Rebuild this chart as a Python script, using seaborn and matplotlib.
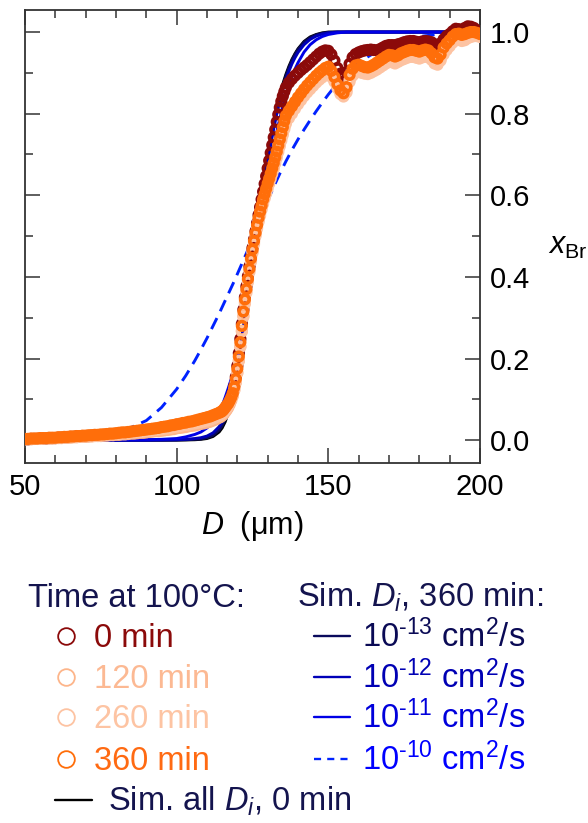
import matplotlib
matplotlib.use("Agg")
import matplotlib.pyplot as plt
import seaborn as sns
from matplotlib.ticker import MultipleLocator, FixedLocator, FormatStrFormatter
from matplotlib.lines import Line2D

# ---------------- data ----------------
D_um = [50, 51, 52, 53, 54, 55, 56, 57, 58, 59, 60, 61, 62, 63, 64, 65, 66, 67, 68, 69,
        70, 71, 72, 73, 74, 75, 76, 77, 78, 79, 80, 81, 82, 83, 84, 85, 86, 87, 88, 89,
        90, 91, 92, 93, 94, 95, 96, 97, 98, 99, 100, 101, 102, 103, 104, 105, 106, 107, 108, 109,
        110, 111, 112, 113, 114,
        114.5, 115, 115.5, 116, 116.5, 117, 117.5, 118, 118.5, 119, 119.5, 120, 120.5, 121, 121.5,
        122, 122.5, 123, 123.5, 124, 124.5, 125, 125.5, 126, 126.5, 127, 127.5, 128, 128.5, 129,
        129.5, 130, 130.5, 131, 131.5, 132, 132.5, 133, 133.5, 134, 134.5, 135, 135.5, 136,
        137, 138, 139, 140, 141, 142, 143, 144, 145, 146, 147, 148, 149, 150, 151, 152, 153, 154,
        155, 156, 157, 158, 159, 160, 161, 162, 163, 164, 165, 166, 167, 168, 169, 170, 171, 172,
        173, 174, 175, 176, 177, 178, 179, 180, 181, 182, 183, 184, 185, 186, 187, 188, 189, 190,
        191, 192, 193, 194, 195, 196, 197, 198, 199, 200]

xbr_0min = [0.002, 0.002, 0.003, 0.003, 0.003, 0.004, 0.004, 0.004, 0.005, 0.005,
            0.005, 0.006, 0.006, 0.007, 0.007, 0.008, 0.008, 0.009, 0.009, 0.010,
            0.010, 0.010, 0.011, 0.011, 0.012, 0.012, 0.013, 0.013, 0.014, 0.015,
            0.015, 0.016, 0.017, 0.017, 0.018, 0.019, 0.020, 0.021, 0.021, 0.022,
            0.023, 0.024, 0.025, 0.026, 0.027, 0.028, 0.029, 0.031, 0.032, 0.033,
            0.035, 0.036, 0.037, 0.039, 0.040, 0.042, 0.044, 0.045, 0.047, 0.049,
            0.051, 0.053, 0.056, 0.059, 0.062,
            0.064, 0.066, 0.070, 0.074, 0.079, 0.085, 0.093, 0.103, 0.116, 0.133, 0.155, 0.182,
            0.213, 0.248, 0.285, 0.320, 0.350, 0.377, 0.402, 0.426, 0.449, 0.471, 0.492, 0.512,
            0.532, 0.552, 0.571, 0.590, 0.609, 0.628, 0.647, 0.666, 0.685, 0.704, 0.723, 0.742,
            0.761, 0.780, 0.798, 0.815, 0.830, 0.843, 0.854, 0.864,
            0.876, 0.885, 0.893, 0.900, 0.907, 0.913, 0.919, 0.926, 0.933, 0.940, 0.947, 0.952,
            0.955, 0.954, 0.945, 0.930, 0.912, 0.898, 0.892, 0.902, 0.922, 0.938, 0.946, 0.950,
            0.953, 0.955, 0.956, 0.957, 0.956, 0.955, 0.958, 0.962, 0.966, 0.968, 0.968, 0.968,
            0.970, 0.972, 0.975, 0.977, 0.978, 0.978, 0.976, 0.975, 0.977, 0.978, 0.977, 0.975,
            0.970, 0.968, 0.972, 0.982, 0.990, 0.995, 1.002, 1.008, 1.007, 1.005, 1.010, 1.014,
            1.013, 1.010, 1.004, 1.000]

xbr_120min = [0.002, 0.002, 0.002, 0.003, 0.003, 0.003, 0.004, 0.004, 0.004, 0.004,
              0.005, 0.005, 0.005, 0.006, 0.006, 0.006, 0.007, 0.007, 0.008, 0.008,
              0.008, 0.009, 0.009, 0.010, 0.010, 0.010, 0.011, 0.011, 0.012, 0.012,
              0.013, 0.013, 0.014, 0.014, 0.015, 0.016, 0.016, 0.017, 0.018, 0.018,
              0.019, 0.020, 0.021, 0.022, 0.022, 0.023, 0.024, 0.025, 0.026, 0.027,
              0.029, 0.030, 0.031, 0.032, 0.034, 0.035, 0.036, 0.038, 0.040, 0.041,
              0.043, 0.045, 0.048, 0.051, 0.055,
              0.057, 0.060, 0.064, 0.069, 0.074, 0.080, 0.088, 0.097, 0.108, 0.122, 0.141, 0.165,
              0.195, 0.230, 0.268, 0.305, 0.338, 0.366, 0.392, 0.417, 0.441, 0.463, 0.484, 0.504,
              0.522, 0.539, 0.555, 0.570, 0.584, 0.597, 0.610, 0.622, 0.634, 0.646, 0.658, 0.671,
              0.684, 0.698, 0.712, 0.726, 0.740, 0.754, 0.767, 0.779,
              0.793, 0.805, 0.817, 0.828, 0.838, 0.848, 0.857, 0.865, 0.873, 0.880, 0.887, 0.893,
              0.899, 0.902, 0.895, 0.882, 0.866, 0.852, 0.846, 0.857, 0.883, 0.898, 0.905, 0.908,
              0.905, 0.902, 0.902, 0.905, 0.908, 0.912, 0.917, 0.922, 0.927, 0.931, 0.930, 0.927,
              0.931, 0.935, 0.938, 0.941, 0.943, 0.943, 0.941, 0.940, 0.942, 0.944, 0.942, 0.936,
              0.926, 0.924, 0.934, 0.950, 0.960, 0.968, 0.977, 0.984, 0.985, 0.982, 0.984, 0.988,
              0.990, 0.992, 0.991, 0.990]

xbr_260min = [0.002, 0.003, 0.003, 0.003, 0.004, 0.004, 0.004, 0.005, 0.005, 0.005,
              0.005, 0.006, 0.006, 0.007, 0.007, 0.008, 0.008, 0.008, 0.009, 0.009,
              0.010, 0.010, 0.011, 0.011, 0.011, 0.012, 0.012, 0.013, 0.014, 0.014,
              0.015, 0.015, 0.016, 0.017, 0.017, 0.018, 0.019, 0.020, 0.020, 0.021,
              0.022, 0.023, 0.024, 0.025, 0.026, 0.027, 0.028, 0.029, 0.030, 0.032,
              0.033, 0.034, 0.036, 0.037, 0.038, 0.040, 0.041, 0.043, 0.044, 0.046,
              0.048, 0.050, 0.053, 0.056, 0.059,
              0.061, 0.064, 0.068, 0.073, 0.078, 0.084, 0.091, 0.100, 0.110, 0.124, 0.142, 0.165,
              0.194, 0.228, 0.266, 0.302, 0.334, 0.361, 0.387, 0.412, 0.437, 0.459, 0.480, 0.500,
              0.518, 0.535, 0.550, 0.565, 0.579, 0.592, 0.604, 0.616, 0.628, 0.640, 0.652, 0.665,
              0.678, 0.692, 0.706, 0.720, 0.734, 0.748, 0.762, 0.775,
              0.789, 0.800, 0.812, 0.823, 0.833, 0.843, 0.852, 0.860, 0.868, 0.876, 0.883, 0.889,
              0.895, 0.898, 0.890, 0.878, 0.862, 0.848, 0.842, 0.852, 0.878, 0.893, 0.900, 0.903,
              0.900, 0.898, 0.897, 0.900, 0.904, 0.908, 0.913, 0.918, 0.923, 0.927, 0.926, 0.923,
              0.927, 0.931, 0.934, 0.937, 0.939, 0.939, 0.937, 0.935, 0.938, 0.940, 0.938, 0.932,
              0.923, 0.920, 0.930, 0.945, 0.956, 0.965, 0.974, 0.980, 0.981, 0.978, 0.980, 0.985,
              0.988, 0.990, 0.990, 0.988]

xbr_360min = [0.003, 0.003, 0.004, 0.004, 0.004, 0.005, 0.005, 0.005, 0.006, 0.006,
              0.006, 0.007, 0.007, 0.008, 0.008, 0.009, 0.009, 0.010, 0.010, 0.011,
              0.011, 0.012, 0.012, 0.013, 0.013, 0.014, 0.014, 0.015, 0.016, 0.016,
              0.017, 0.018, 0.019, 0.019, 0.020, 0.021, 0.022, 0.023, 0.024, 0.025,
              0.026, 0.027, 0.028, 0.029, 0.030, 0.032, 0.033, 0.034, 0.036, 0.037,
              0.039, 0.040, 0.042, 0.043, 0.045, 0.046, 0.048, 0.050, 0.052, 0.054,
              0.056, 0.058, 0.061, 0.064, 0.067,
              0.069, 0.071, 0.075, 0.080, 0.085, 0.090, 0.097, 0.105, 0.115, 0.130, 0.150, 0.175,
              0.205, 0.240, 0.280, 0.315, 0.345, 0.370, 0.395, 0.420, 0.445, 0.467, 0.488, 0.508,
              0.527, 0.545, 0.560, 0.575, 0.590, 0.603, 0.616, 0.629, 0.641, 0.653, 0.666, 0.679,
              0.693, 0.707, 0.722, 0.737, 0.752, 0.767, 0.782, 0.795,
              0.807, 0.818, 0.829, 0.840, 0.850, 0.860, 0.869, 0.877, 0.885, 0.893, 0.900, 0.906,
              0.912, 0.915, 0.905, 0.890, 0.872, 0.857, 0.850, 0.865, 0.895, 0.910, 0.918, 0.920,
              0.917, 0.914, 0.913, 0.916, 0.920, 0.925, 0.930, 0.935, 0.940, 0.944, 0.943, 0.940,
              0.943, 0.948, 0.951, 0.954, 0.956, 0.956, 0.954, 0.952, 0.955, 0.957, 0.955, 0.948,
              0.938, 0.935, 0.945, 0.962, 0.972, 0.980, 0.989, 0.995, 0.996, 0.993, 0.995, 0.998,
              1.000, 1.000, 0.998, 0.995]

sim_D = [50, 60, 70, 80, 90, 95, 100, 103, 106, 108, 110, 112, 114, 115, 116, 117, 118, 119,
         120, 121, 122, 123, 124, 125, 126, 127, 128, 129, 130, 131, 132, 133, 134, 135, 136,
         137, 138, 139, 140, 142, 144, 146, 148, 150, 153, 156, 160, 170, 180, 190, 200]

sim_all_0min = [0, 0, 0, 0, 0, 0, 0, 0.0005, 0.001, 0.002, 0.004, 0.009, 0.020, 0.030, 0.045,
                0.067, 0.095, 0.130, 0.172, 0.219, 0.270, 0.324, 0.380, 0.437, 0.493, 0.548,
                0.601, 0.651, 0.698, 0.741, 0.780, 0.815, 0.846, 0.873, 0.896, 0.916, 0.933,
                0.947, 0.959, 0.977, 0.988, 0.994, 0.998, 1.0, 1.0, 1.0, 1.0, 1.0, 1.0, 1.0, 1.0]
sim_1e13 = [0, 0, 0, 0, 0, 0, 0.0005, 0.001, 0.002, 0.003, 0.006, 0.012, 0.025, 0.036, 0.052,
            0.075, 0.103, 0.137, 0.177, 0.222, 0.272, 0.325, 0.380, 0.436, 0.491, 0.545, 0.597,
            0.646, 0.692, 0.735, 0.774, 0.809, 0.840, 0.868, 0.892, 0.912, 0.930, 0.945, 0.957,
            0.975, 0.986, 0.993, 0.997, 0.999, 1.0, 1.0, 1.0, 1.0, 1.0, 1.0, 1.0]
sim_1e12 = [0, 0, 0, 0, 0, 0.0005, 0.001, 0.002, 0.004, 0.006, 0.010, 0.018, 0.033, 0.045,
            0.062, 0.084, 0.111, 0.143, 0.181, 0.224, 0.271, 0.322, 0.375, 0.429, 0.483, 0.536,
            0.587, 0.636, 0.682, 0.724, 0.763, 0.799, 0.831, 0.859, 0.883, 0.904, 0.922, 0.937,
            0.950, 0.969, 0.982, 0.990, 0.995, 0.998, 1.0, 1.0, 1.0, 1.0, 1.0, 1.0, 1.0]
sim_1e11 = [0, 0, 0, 0.0005, 0.001, 0.002, 0.004, 0.008, 0.014, 0.020, 0.030, 0.045, 0.065,
            0.085, 0.105, 0.127, 0.150, 0.174, 0.200, 0.232, 0.270, 0.313, 0.358, 0.405, 0.453,
            0.501, 0.548, 0.594, 0.638, 0.680, 0.719, 0.755, 0.788, 0.818, 0.845, 0.869, 0.890,
            0.909, 0.925, 0.951, 0.969, 0.981, 0.989, 0.994, 0.998, 1.0, 1.0, 1.0, 1.0, 1.0, 1.0]
sim_1e10 = [0.0, 0.001, 0.004, 0.014, 0.048, 0.080, 0.125, 0.158, 0.195, 0.222, 0.250, 0.280,
            0.310, 0.326, 0.342, 0.358, 0.374, 0.390, 0.407, 0.424, 0.441, 0.458, 0.476, 0.494,
            0.513, 0.531, 0.550, 0.568, 0.587, 0.604, 0.621, 0.637, 0.653, 0.668, 0.683, 0.697,
            0.711, 0.724, 0.737, 0.761, 0.784, 0.806, 0.827, 0.847, 0.875, 0.899, 0.926, 0.970,
            0.989, 0.998, 1.0]

time_labels = ["0 min", "120 min", "260 min", "360 min"]
HY = "\u2010"
sim_labels = ["10$^{\\mathrm{" + HY + "13}}$ cm$^{\\mathrm{2}}$/s",
              "10$^{\\mathrm{" + HY + "12}}$ cm$^{\\mathrm{2}}$/s",
              "10$^{\\mathrm{" + HY + "11}}$ cm$^{\\mathrm{2}}$/s",
              "10$^{\\mathrm{" + HY + "10}}$ cm$^{\\mathrm{2}}$/s"]
x_ticks = [50, 100, 150, 200]
y_ticks = [0.0, 0.2, 0.4, 0.6, 0.8, 1.0]

# ---------------- style ----------------
sns.set_style("ticks")
plt.rcParams["font.family"] = ["Liberation Sans", "DejaVu Sans"]
plt.rcParams["mathtext.fontset"] = "custom"
plt.rcParams["mathtext.rm"] = "Liberation Sans"
plt.rcParams["mathtext.it"] = "Liberation Sans:italic"
plt.rcParams["mathtext.bf"] = "Liberation Sans:bold"

navy_txt = "#14144E"
time_colors = ["#8B0A0A", "#FDB58A", "#FDC3A2", "#FF6E0A"]
time_txt_colors = ["#8B0A0A", "#FCB993", "#FDC4A3", "#FF6A12"]
sim_colors = ["#0A0A5C", "#0000B8", "#0000E6", "#0022FF"]
sim_txt_colors = ["#0A0A55", "#0000B4", "#0000DC", "#0000FF"]

W, H = 588, 823
fig = plt.figure(figsize=(W / 100, H / 100), dpi=100)
ax = fig.add_axes([25 / W, 1 - 463 / H, 455 / W, 453 / H])

# simulation curves (under the data)
sns.lineplot(x=sim_D, y=sim_all_0min, ax=ax, color="#000000", linewidth=2.1,
             estimator=None, sort=False, legend=False, zorder=2)
sim_series = [sim_1e13, sim_1e12, sim_1e11, sim_1e10]
for i, vals in enumerate(sim_series):
    sns.lineplot(x=sim_D, y=vals, ax=ax, color=sim_colors[i], linewidth=2.1,
                 estimator=None, sort=False, legend=False, zorder=2)
    if i == 3:
        ax.lines[-1].set_linestyle((0, (4.2, 2.6)))

# measured profiles (open circles)
for vals, col in zip([xbr_0min, xbr_120min, xbr_260min, xbr_360min], time_colors):
    sns.scatterplot(x=D_um, y=vals, ax=ax, color=col, s=38, linewidth=2.6,
                    legend=False, zorder=3)
    coll = ax.collections[-1]
    coll.set_facecolor("none")
    coll.set_edgecolor(col)
    coll.set_linewidth(2.6)

# axes formatting
ax.set_xlim(50, 200)
ax.set_ylim(-0.056, 1.054)
ax.xaxis.set_major_locator(FixedLocator(x_ticks))
ax.xaxis.set_minor_locator(MultipleLocator(10))
ax.yaxis.set_major_locator(FixedLocator(y_ticks))
ax.yaxis.set_minor_locator(MultipleLocator(0.1))
ax.yaxis.set_major_formatter(FormatStrFormatter("%.1f"))
spine_col = "#333333"
for sp in ax.spines.values():
    sp.set_visible(True)
    sp.set_color(spine_col)
    sp.set_linewidth(1.3)
ax.tick_params(which="major", direction="in", length=10.5, width=1.1, color=spine_col,
               labelsize=21, pad=7, top=True, bottom=True, left=True, right=True,
               labelleft=False, labelright=True, labelcolor="black")
ax.tick_params(which="minor", direction="in", length=5.5, width=1.1, color=spine_col,
               top=True, bottom=True, left=True, right=True)

ax.set_xlabel(r"$D$  (μm)", fontsize=22, labelpad=6, color="black")
ax.set_ylabel(r"$x_{\mathrm{Br}}$", fontsize=22, rotation=0, color="black")
ax.yaxis.set_label_position("right")
ax.yaxis.label.set_ha("left")
ax.yaxis.label.set_va("center")
ax.yaxis.set_label_coords(1.149, 0.48)

# ---------------- legend (built by hand) ----------------
def fx(x):
    return x / W


def fy(y):
    return 1 - y / H


leg_fs = 23.5
fig.text(fx(28), fy(607), "Time at 100°C:", fontsize=leg_fs, color=navy_txt, va="baseline")
fig.text(fx(297), fy(607), r"Sim. $D_i$, 360 min:", fontsize=leg_fs, color=navy_txt, va="baseline")
row_base = [647, 688, 728, 770]
for i in range(4):
    yb = row_base[i]
    yc = yb - 11
    fig.add_artist(Line2D([fx(66)], [fy(yc)], marker="o", markersize=12, mfc="none",
                          mec=time_colors[i], mew=1.3, transform=fig.transFigure))
    fig.text(fx(94), fy(yb), time_labels[i], fontsize=leg_fs, color=time_txt_colors[i],
             va="baseline")
    ls = (0, (3.0, 2.6)) if i == 3 else "-"
    fig.add_artist(Line2D([fx(314), fx(350)], [fy(yc), fy(yc)], color=sim_colors[i], lw=1.7,
                          linestyle=ls, transform=fig.transFigure))
    fig.text(fx(362), fy(yb), sim_labels[i], fontsize=leg_fs, color=sim_txt_colors[i],
             va="baseline")

fig.add_artist(Line2D([fx(55), fx(92)], [fy(800), fy(800)], color="black", lw=1.7,
                      transform=fig.transFigure))
fig.text(fx(108), fy(811), r"Sim. all $D_i$, 0 min", fontsize=leg_fs, color=navy_txt,
         va="baseline")

fig.savefig("out.png", dpi=100)
